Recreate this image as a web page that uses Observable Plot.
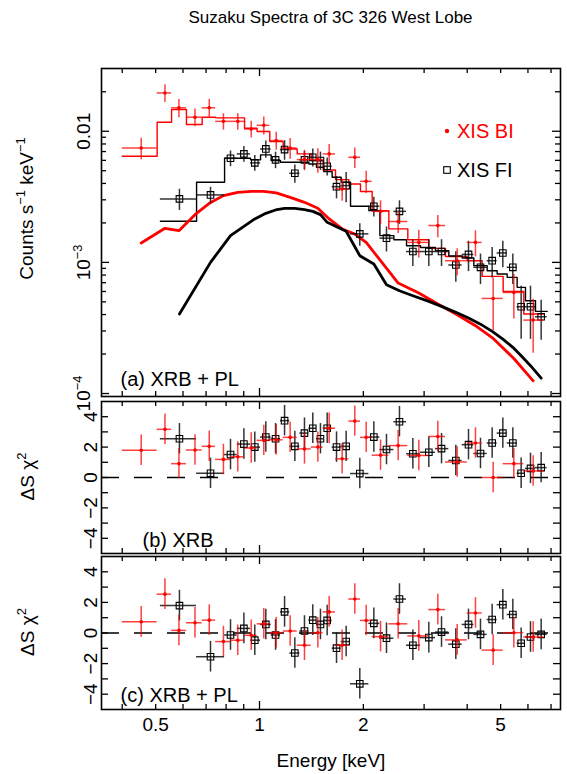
<!DOCTYPE html>
<html>
<head>
<meta charset="utf-8">
<script src="https://cdn.jsdelivr.net/npm/d3@7"></script>
<script src="https://cdn.jsdelivr.net/npm/@observablehq/plot@0.6"></script>
<style>
  html, body { margin:0; padding:0; background:#fff; }
  #wrap { position:relative; width:567px; height:774px; overflow:hidden; font-family:"Liberation Sans", Arial, Helvetica, sans-serif; }
  #wrap svg.panel { position:absolute; left:0; background:transparent !important; max-width:none !important; }
  #title { position:absolute; left:101px; width:459px; top:9px; text-align:center; font-size:17px; line-height:17px; color:#000; }
  .legtxt { position:absolute; left:457px; font-size:20px; line-height:20px; white-space:nowrap; z-index:5; }
  .legsym { position:absolute; z-index:5; }
</style>
</head>
<body>
<div id="wrap">
  <div id="title">Suzaku Spectra of 3C 326 West Lobe</div>
</div>
<script>
// ---------------- DATA ----------------
// XIS BI (red)
const biEdges = [0.400, 0.505, 0.556, 0.614, 0.682, 0.746, 0.824, 0.905, 0.984, 1.071, 1.171, 1.286, 1.412, 1.529, 1.661, 1.815, 1.962, 2.121, 2.371, 2.691, 3.096, 3.460, 3.999, 4.420, 5.085, 5.836, 6.671];
const biEnergy = [0.454, 0.532, 0.584, 0.650, 0.715, 0.786, 0.865, 0.946, 1.029, 1.118, 1.227, 1.350, 1.476, 1.592, 1.736, 1.889, 2.038, 2.243, 2.523, 2.896, 3.288, 3.741, 4.227, 4.757, 5.461, 6.213];
const biRate = [0.00746, 0.0196, 0.0151, 0.0128, 0.0151, 0.0119, 0.0119, 0.0104, 0.0111, 0.00849, 0.00746, 0.00608, 0.00608, 0.00672, 0.00363, 0.00633, 0.00415, 0.00245, 0.00205, 0.00142, 0.00191, 0.00103, 0.00142, 0.000531, 0.000590, 0.000363];
const biErr = [0.0014, 0.0030, 0.0024, 0.0020, 0.0024, 0.0017, 0.0017, 0.0015, 0.00175, 0.00134, 0.00133, 0.00108, 0.00129, 0.0012, 0.0007, 0.00113, 0.0008, 0.0005, 0.00039, 0.00034, 0.00037, 0.00024, 0.00032, 0.00023, 0.00022, 0.00016];
const biModel = [0.00645, 0.01172, 0.01464, 0.01125, 0.0128, 0.01265, 0.01265, 0.01055, 0.00995, 0.00834, 0.00733, 0.00672, 0.00598, 0.00507, 0.00428, 0.00396, 0.00347, 0.00248, 0.0018, 0.00149, 0.00128, 0.00111, 0.00103, 0.000782, 0.000600, 0.000404];
const biComponent = [0.001405, 0.00182, 0.001746, 0.002312, 0.002822, 0.00323, 0.003424, 0.003485, 0.003485, 0.003385, 0.003135, 0.002872, 0.002585, 0.002144, 0.001798, 0.001646, 0.001422, 0.00103, 0.000696, 0.000584, 0.000481, 0.000399, 0.000329, 0.000263, 0.000185, 0.000125];
const biResidXRB = [1.79, 3.17, 0.91, 1.81, 2.05, 1.19, 1.36, 1.94, 2.44, 2.48, 2.64, 1.88, 2.0, 3.24, 1.23, 3.71, 2.64, 1.47, 2.1, 1.45, 2.7, 1.02, 2.27, 0.0, 0.91, 0.43];
const biResidXRBPL = [0.73, 2.54, 0.17, 0.67, 0.84, -0.56, -0.47, -0.15, 0.6, 0.02, 0.13, -0.8, 0.02, 1.38, -0.8, 2.22, 0.82, -0.24, 0.6, -0.19, 1.53, -0.45, 1.31, -1.12, 0.02, -0.26];

// XIS FI (black)
const fiEdges = [0.516, 0.657, 0.792, 0.862, 0.942, 1.007, 1.081, 1.150, 1.224, 1.309, 1.390, 1.463, 1.536, 1.624, 1.724, 1.836, 2.075, 2.233, 2.452, 2.668, 2.929, 3.237, 3.538, 3.868, 4.181, 4.570, 4.885, 5.223, 5.582, 5.902, 6.310, 6.822];
const fiEnergy = [0.586, 0.721, 0.824, 0.901, 0.969, 1.043, 1.113, 1.182, 1.266, 1.350, 1.427, 1.502, 1.571, 1.672, 1.783, 1.953, 2.145, 2.334, 2.545, 2.783, 3.096, 3.370, 3.707, 4.035, 4.371, 4.725, 5.074, 5.424, 5.734, 6.103, 6.553];
const fiRate = [0.00305, 0.00327, 0.00622, 0.00672, 0.00574, 0.00733, 0.00605, 0.00725, 0.00478, 0.00605, 0.00633, 0.00598, 0.00541, 0.00378, 0.00385, 0.00165, 0.00268, 0.00153, 0.00245, 0.00121, 0.00121, 0.00121, 0.000955, 0.00115, 0.000917, 0.00103, 0.00118, 0.000917, 0.000459, 0.000459, 0.000385];
const fiErr = [0.00056, 0.00047, 0.00085, 0.00092, 0.00079, 0.0011, 0.00087, 0.00124, 0.00076, 0.00095, 0.001, 0.00095, 0.00085, 0.00073, 0.001, 0.00032, 0.00046, 0.00033, 0.0005, 0.00028, 0.00028, 0.00028, 0.00025, 0.0003, 0.00024, 0.00027, 0.00027, 0.00024, 0.0002, 0.0002, 0.00013];
const fiModel = [0.00206, 0.00408, 0.00622, 0.00622, 0.00605, 0.0066, 0.00598, 0.0058, 0.0058, 0.0058, 0.00563, 0.00531, 0.00492, 0.00446, 0.00408, 0.00268, 0.00248, 0.0016, 0.00149, 0.00134, 0.0013, 0.00123, 0.00112, 0.00108, 0.000944, 0.000864, 0.000815, 0.000769, 0.000645, 0.00051, 0.000423];
const fiComponent = [0.000404, 0.001, 0.0016, 0.001884, 0.002144, 0.002367, 0.00251, 0.002585, 0.002585, 0.002525, 0.00245, 0.002312, 0.00202, 0.001873, 0.001726, 0.001125, 0.000972, 0.000676, 0.000608, 0.000557, 0.000504, 0.000462, 0.000416, 0.000376, 0.000338, 0.000298, 0.00026, 0.000225, 0.000194, 0.000163, 0.000131];
const fiResidXRB = [2.55, 0.28, 1.51, 2.2, 2.0, 2.66, 2.55, 3.74, 2.05, 2.92, 3.24, 2.55, 3.24, 2.0, 2.05, 0.26, 2.66, 1.84, 3.67, 1.56, 1.66, 1.9, 1.12, 2.16, 1.58, 2.27, 2.92, 2.27, 0.28, 0.6, 0.65];
const fiResidXRBPL = [1.79, -1.55, -0.13, 0.3, -0.47, 0.56, -0.13, 1.38, -1.31, 0.13, 0.84, 0.56, 0.82, -0.99, -0.56, -3.32, 0.63, -0.34, 2.22, -0.8, -0.3, 0.06, -0.73, 0.56, -0.09, 0.88, 1.85, 1.21, -0.67, -0.26, -0.09];

// Ticks and labels
const xMajorTicks = [1];
const xMinorTicks = [0.4, 0.5, 0.6, 0.7, 0.8, 0.9, 2, 3, 4, 5, 6, 7];
const xTickLabels = [0.5, 1, 2, 5];
const yMajorTicksA = [1e-4, 1e-3, 1e-2];
const yMinorTicksA = [2e-4, 3e-4, 4e-4, 5e-4, 6e-4, 7e-4, 8e-4, 9e-4, 2e-3, 3e-3, 4e-3, 5e-3, 6e-3, 7e-3, 8e-3, 9e-3, 2e-2];
const yTickValuesA = [1e-4, 1e-3, 1e-2];
const yTickTextA = ["10^{−4}", "10^{−3}", "0.01"];
const residTicks = [-4, -3, -2, -1, 0, 1, 2, 3, 4];
const residTickLabels = [-4, -2, 0, 2, 4];

// ---------------- BUILD ----------------
const FONT = "Liberation Sans, Arial, Helvetica, sans-serif";
const W = 567, ML = 101, MR = 7, FW = W - ML - MR;
const xDomain = [0.3483, 7.456];
const RED = "#ff0000";

const bi = biEnergy.map((e, i) => ({E: e, lo: biEdges[i], hi: biEdges[i + 1], rate: biRate[i], err: biErr[i], model: biModel[i], comp: biComponent[i], rb: biResidXRB[i], rc: biResidXRBPL[i]}));
const fi = fiEnergy.map((e, i) => ({E: e, lo: fiEdges[i], hi: fiEdges[i + 1], rate: fiRate[i], err: fiErr[i], model: fiModel[i], comp: fiComponent[i], rb: fiResidXRB[i], rc: fiResidXRBPL[i]}));
const stepBI = bi.flatMap(d => [{E: d.lo, m: d.model}, {E: d.hi, m: d.model}]);
const stepFI = fi.flatMap(d => [{E: d.lo, m: d.model}, {E: d.hi, m: d.model}]);

function frameTicks(FH, yMaj, yMajLen, yMin, yMinLen) {
  const s = {stroke: "#000", strokeWidth: 1.3};
  return [
    Plot.ruleX(xMinorTicks, {x: d => d, insetTop: FH - 5, ...s}),
    Plot.ruleX(xMinorTicks, {x: d => d, insetBottom: FH - 5, ...s}),
    Plot.ruleX(xMajorTicks, {x: d => d, insetTop: FH - 8, ...s}),
    Plot.ruleX(xMajorTicks, {x: d => d, insetBottom: FH - 8, ...s}),
    Plot.ruleY(yMaj, {y: d => d, insetRight: FW - yMajLen, ...s}),
    Plot.ruleY(yMaj, {y: d => d, insetLeft: FW - yMajLen, ...s}),
    Plot.ruleY(yMin, {y: d => d, insetRight: FW - yMinLen, ...s}),
    Plot.ruleY(yMin, {y: d => d, insetLeft: FW - yMinLen, ...s}),
    Plot.frame({stroke: "#000", strokeWidth: 1.6})
  ];
}

function dataMarks(rows, key, color, isFI) {
  const lineStyle = {stroke: isFI ? "#111" : color, strokeWidth: 1.5, strokeOpacity: isFI ? 0.85 : 0.75};
  const marks = [
    Plot.ruleY(rows, {y: key, x1: "lo", x2: "hi", ...lineStyle}),
    Plot.ruleX(rows, {x: "E", y1: key === "rate" ? (d => d.rate - d.err) : (d => d[key] - 1), y2: key === "rate" ? (d => d.rate + d.err) : (d => d[key] + 1), ...lineStyle})
  ];
  if (isFI) marks.push(Plot.dot(rows, {x: "E", y: key, symbol: "square", r: 3.7, stroke: "#000", strokeWidth: 1.1, fill: "none"}));
  else marks.push(Plot.dot(rows, {x: "E", y: key, r: 1.8, fill: color, stroke: "none"}));
  return marks;
}

// Panel (a)
const HA = 398, MTA = 68, MBA = 2, FHA = HA - MTA - MBA;
const panelA = Plot.plot({
  width: W, height: HA, marginLeft: ML, marginRight: MR, marginTop: MTA, marginBottom: MBA,
  style: {fontFamily: FONT, background: "transparent", overflow: "visible"},
  x: {type: "log", domain: xDomain, axis: null},
  y: {type: "log", domain: [9.49e-5, 0.0301], axis: null},
  marks: [
    Plot.line(stepBI, {x: "E", y: "m", stroke: RED, strokeWidth: 1.4}),
    Plot.line(stepFI, {x: "E", y: "m", stroke: "#000", strokeWidth: 1.4}),
    Plot.line(bi, {x: "E", y: "comp", stroke: RED, strokeWidth: 2.8}),
    Plot.line(fi, {x: "E", y: "comp", stroke: "#000", strokeWidth: 2.8}),
    ...dataMarks(fi, "rate", "#000", true),
    ...dataMarks(bi, "rate", RED, false),
    ...frameTicks(FHA, yMajorTicksA, 8, yMinorTicksA, 5),
    Plot.text(yTickValuesA, {y: d => d, text: (d, i) => yTickTextA[i], frameAnchor: "left", dx: -18, rotate: -90, textAnchor: "middle", lineAnchor: "middle", fontSize: 19, fill: "#000"}),
    Plot.text(["Counts s^{−1} keV^{−1}"], {text: d => d, frameAnchor: "left", dx: -75, dy: -24, rotate: -90, textAnchor: "middle", lineAnchor: "middle", fontSize: 19, fill: "#000"}),
    Plot.text(["(a) XRB + PL"], {text: d => d, frameAnchor: "bottom-left", dx: 19, dy: -17, textAnchor: "start", lineAnchor: "middle", fontSize: 20, fill: "#000"})
  ]
});

function residPanel(key, HB, MT, MB, label, labelDx, labelDy, withXLabels) {
  const FH = HB - MT - MB;
  const marks = [
    Plot.ruleY([0], {y: d => d, stroke: "#000", strokeWidth: 1.5, strokeDasharray: "18,15"}),
    ...dataMarks(fi, key, "#000", true),
    ...dataMarks(bi, key, RED, false),
    ...frameTicks(FH, residTicks, 7, [], 0),
    Plot.text(residTickLabels, {y: d => d, text: d => (d < 0 ? "−" + Math.abs(d) : String(d)), frameAnchor: "left", dx: -10.5, rotate: -90, textAnchor: "middle", lineAnchor: "middle", fontSize: 19, fill: "#000"}),
    Plot.text(["ΔS χ^{2}"], {text: d => d, frameAnchor: "left", dx: -74, dy: -1, rotate: -90, textAnchor: "middle", lineAnchor: "middle", fontSize: 19, fill: "#000"}),
    Plot.text([label], {text: d => d, frameAnchor: "bottom-left", dx: labelDx, dy: labelDy, textAnchor: "start", lineAnchor: "middle", fontSize: 20, fill: "#000"})
  ];
  if (withXLabels) {
    marks.push(Plot.text(xTickLabels, {x: d => d, text: d => String(d), frameAnchor: "bottom", dy: 15, lineAnchor: "middle", fontSize: 19, fill: "#000"}));
    marks.push(Plot.text(["Energy [keV]"], {text: d => d, frameAnchor: "bottom", dy: 51, lineAnchor: "middle", fontSize: 19, fill: "#000"}));
  }
  return Plot.plot({
    width: W, height: HB, marginLeft: ML, marginRight: MR, marginTop: MT, marginBottom: MB,
    style: {fontFamily: FONT, background: "transparent", overflow: "visible"},
    x: {type: "log", domain: xDomain, axis: null},
    y: {domain: [-5, 5], axis: null},
    marks
  });
}

const panelB = residPanel("rb", 158, 3, 3, "(b) XRB", 41, -13, false);
const panelC = residPanel("rc", 219, 1, 65, "(c) XRB + PL", 19, -14, true);

const wrap = document.getElementById("wrap");
[[panelA, 0], [panelB, 398], [panelC, 555]].forEach(([svg, top]) => {
  svg.classList.add("panel");
  svg.style.top = top + "px";
  wrap.appendChild(svg);
});

// superscripts as real tspans
function supify(root) {
  root.querySelectorAll("text").forEach(el => {
    const t = el.textContent;
    if (!t.includes("^{")) return;
    const fs = parseFloat(getComputedStyle(el).fontSize) || 19;
    const parts = t.split(/\^\{([^}]*)\}/);
    while (el.firstChild) el.removeChild(el.firstChild);
    let up = false;
    parts.forEach((p, i) => {
      if (p === "") return;
      const ts = document.createElementNS("http://www.w3.org/2000/svg", "tspan");
      ts.textContent = p;
      if (i % 2 === 1) { ts.setAttribute("dy", (-0.42 * fs).toFixed(2)); ts.setAttribute("font-size", (0.68 * fs).toFixed(2)); up = true; }
      else if (up) { ts.setAttribute("dy", (0.42 * fs).toFixed(2)); up = false; }
      el.appendChild(ts);
    });
  });
}
supify(wrap);

// legend
const legend = [
  {label: "XIS BI", color: RED, sym: "dot", cy: 130.7},
  {label: "XIS FI", color: "#000", sym: "square", cy: 170}
];
legend.forEach(l => {
  const s = document.createElementNS("http://www.w3.org/2000/svg", "svg");
  s.setAttribute("width", 10); s.setAttribute("height", 10);
  s.setAttribute("class", "legsym");
  s.style.left = (446.7 - 5) + "px"; s.style.top = (l.cy - 5) + "px";
  if (l.sym === "dot") {
    const c = document.createElementNS("http://www.w3.org/2000/svg", "circle");
    c.setAttribute("cx", 5); c.setAttribute("cy", 5); c.setAttribute("r", 2.2); c.setAttribute("fill", l.color);
    s.appendChild(c);
  } else {
    const r = document.createElementNS("http://www.w3.org/2000/svg", "rect");
    r.setAttribute("x", 1.7); r.setAttribute("y", 1.7); r.setAttribute("width", 6.6); r.setAttribute("height", 6.6);
    r.setAttribute("fill", "none"); r.setAttribute("stroke", l.color); r.setAttribute("stroke-width", 1.1);
    s.appendChild(r);
  }
  wrap.appendChild(s);
  const d = document.createElement("div");
  d.className = "legtxt";
  d.style.top = (l.cy - 9.7) + "px";
  d.style.color = l.color;
  d.textContent = l.label;
  wrap.appendChild(d);
});
</script>
</body>
</html>
